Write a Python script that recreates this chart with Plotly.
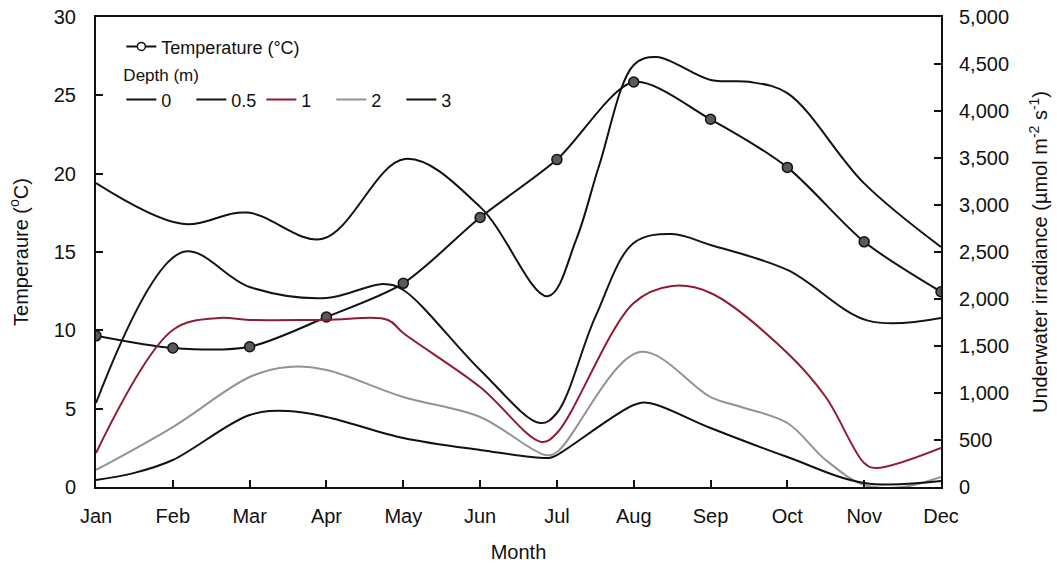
import plotly.graph_objects as go

months = ["Jan", "Feb", "Mar", "Apr", "May", "Jun", "Jul", "Aug", "Sep", "Oct", "Nov", "Dec"]
month_pos = list(range(12))

temperature = [9.65, 8.87, 8.95, 10.85, 13.0, 17.2, 20.9, 25.85, 23.47, 20.4, 15.65, 12.46]

depth0_x = [0, 1.12, 1.97, 2.95, 4.02, 5, 5.88, 6.25, 6.55, 7.0, 7.3, 8, 8.5, 9, 10, 11]
depth0_y = [3234, 2800, 2920, 2640, 3490, 2980, 2030, 2630, 3420, 4490, 4575, 4330, 4310, 4190, 3230, 2553]

depth05_x = [0, 1.13, 2, 3, 3.74, 4, 5, 5.78, 6, 6.5, 7, 7.5, 8, 9, 10.05, 11]
depth05_y = [894, 2500, 2128, 2011, 2160, 2096, 1245, 681, 787, 1809, 2596, 2691, 2574, 2309, 1770, 1798]

depth1_x = [0, 1, 1.6, 2, 3, 3.8, 4, 5, 5.8, 6, 7, 7.5, 8, 9, 9.5, 10, 10.15, 11]
depth1_y = [362, 1670, 1798, 1777, 1777, 1777, 1638, 1064, 479, 574, 1957, 2138, 2064, 1426, 957, 255, 202, 415]

depth2_x = [0, 1, 2, 2.5, 3, 4, 5, 5.85, 6, 7.08, 8, 8.4, 9, 9.5, 10, 10.5, 11]
depth2_y = [181, 638, 1170, 1277, 1245, 957, 745, 340, 372, 1436, 957, 851, 681, 287, 21, 0, 106]

depth3_x = [0, 0.5, 1, 2, 2.5, 3, 4, 5, 5.9, 6, 7, 7.2, 8, 9, 10, 11]
depth3_y = [74, 150, 287, 766, 809, 745, 521, 394, 309, 340, 872, 894, 628, 319, 43, 64]

depth_labels = ["0", "0.5", "1", "2", "3"]
depth_colors = ["#111111", "#1a1214", "#8e1c34", "#8d9696", "#111111"]

FONT = "Liberation Sans, Arial, sans-serif"

fig = go.Figure()

series = [(depth0_x, depth0_y), (depth05_x, depth05_y), (depth1_x, depth1_y),
          (depth2_x, depth2_y), (depth3_x, depth3_y)]
for (xs, ys), lab, col in zip(series, depth_labels, depth_colors):
    fig.add_trace(go.Scatter(
        x=xs, y=ys, yaxis="y2", mode="lines", name=lab,
        line=dict(color=col, width=2, shape="spline", smoothing=1.0),
        legend="legend2", hoverinfo="skip"))

fig.add_trace(go.Scatter(
    x=month_pos, y=temperature, mode="lines+markers", name="Temperature (°C)",
    line=dict(color="#111111", width=2, shape="spline", smoothing=0.8),
    marker=dict(size=10, color="#5a5a5a", line=dict(color="#111111", width=1.5)),
    showlegend=False))

# legend entry (hollow marker as in the reference key)
fig.add_trace(go.Scatter(
    x=[None], y=[None], mode="lines+markers", name="Temperature (°C)",
    line=dict(color="#111111", width=2),
    marker=dict(size=8, color="white", line=dict(color="#111111", width=1.5)),
    legend="legend"))

fig.update_layout(
    width=1057, height=568,
    margin=dict(l=96, r=116, t=17, b=81, autoexpand=False),
    paper_bgcolor="white", plot_bgcolor="white",
    font=dict(family=FONT, size=20, color="#111111"),
    xaxis=dict(
        range=[0, 11], tickvals=month_pos, ticktext=months,
        ticks="inside", ticklen=7, tickwidth=1.5, tickcolor="#111111",
        showline=True, linecolor="#111111", linewidth=2, mirror=True,
        showgrid=False, zeroline=False, ticklabelstandoff=10, automargin=False,
        title=dict(text="Month", font=dict(size=20), standoff=19),
    ),
    yaxis=dict(
        range=[0, 30], dtick=5,
        ticks="inside", ticklen=7, tickwidth=1.5, tickcolor="#111111",
        showline=True, linecolor="#111111", linewidth=2,
        showgrid=False, zeroline=False, ticklabelstandoff=14, automargin=False,
        title=dict(text="Temperaure (<sup>o</sup>C)", font=dict(size=20), standoff=20),
    ),
    yaxis2=dict(
        range=[0, 5000], dtick=500, tickformat=",", overlaying="y", side="right",
        ticks="inside", ticklen=7, tickwidth=1.5, tickcolor="#111111",
        showline=True, linecolor="#111111", linewidth=2,
        showgrid=False, zeroline=False, ticklabelstandoff=12, automargin=False,
        title=dict(text="Underwater irradiance (µmol m<sup>-2</sup> s<sup>-1</sup>)",
                   font=dict(size=20), standoff=25),
    ),
    legend=dict(
        x=0.03, y=0.976, xanchor="left", yanchor="top",
        bgcolor="rgba(0,0,0,0)", font=dict(size=18),
    ),
    legend2=dict(
        x=0.03, y=0.91, xanchor="left", yanchor="top", orientation="h",
        bgcolor="rgba(0,0,0,0)", font=dict(size=18),
        title=dict(text="Depth (m)", side="top", font=dict(size=17)),
        tracegroupgap=0, itemwidth=30, entrywidth=25, entrywidthmode="pixels",
    ),
    showlegend=True,
)

fig.write_html("out.html")
